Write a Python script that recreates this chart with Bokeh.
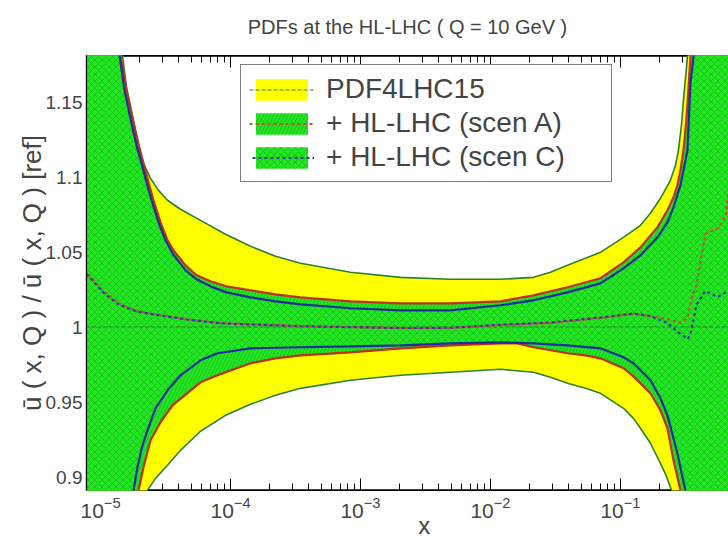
from bokeh.plotting import figure
from bokeh.models import (LogAxis, LogTicker, FixedTicker, Legend, LegendItem,
                          CustomJSTickFormatter)
from bokeh.embed import file_html
from bokeh.resources import INLINE

# ---------------- data ----------------
# PDF4LHC15 band (yellow): upper / lower edge
yel_hi_x = [5e-6, 1.4e-5, 1.476e-5, 1.585e-5, 1.794e-5, 1.96e-5, 2.141e-5, 2.424e-5, 2.794e-5,
            3.276e-5, 4.125e-5, 5.878e-5, 9.151e-5, 1.425e-4, 2.219e-4, 3.455e-4, 8.377e-4,
            2.031e-3, 4.924e-3, 1.194e-2, 2.141e-2, 2.894e-2, 3.911e-2, 5.38e-2, 7.017e-2,
            0.1055, 0.1425, 0.1701, 0.2031, 0.2424, 0.2649, 0.2794, 0.2945, 0.3052, 0.3162,
            0.3276, 0.3394, 0.8]
yel_hi_v = [1.6, 1.2045, 1.1811, 1.1598, 1.1378, 1.1225, 1.1091, 1.0991, 1.0911,
            1.0845, 1.0785, 1.0711, 1.0618, 1.0538, 1.0471, 1.0425, 1.0365,
            1.0331, 1.0318, 1.0318, 1.0331, 1.0365, 1.0411, 1.0458, 1.0498,
            1.0598, 1.0678, 1.0758, 1.0858, 1.0978, 1.1078, 1.1178, 1.1345, 1.1511, 1.1658,
            1.1798, 1.2045, 1.6]
yel_lo_x = [5e-6, 2.03e-5, 2.298e-5, 2.649e-5, 3.276e-5, 4.125e-5, 5.878e-5, 9.151e-5, 1.425e-4,
            2.219e-4, 3.455e-4, 8.377e-4, 2.031e-3, 4.924e-3, 1.194e-2, 2.141e-2, 2.894e-2,
            3.911e-2, 5.38e-2, 7.017e-2, 0.1055, 0.1259, 0.1425, 0.1701, 0.2031, 0.2258,
            0.2467, 0.2697, 0.8]
yel_lo_v = [0.4, 0.8711, 0.8911, 0.8991, 0.9078, 0.9178, 0.9305, 0.9411, 0.9485,
            0.9545, 0.9591, 0.9645, 0.9678, 0.9698, 0.9718, 0.9698, 0.9665,
            0.9625, 0.9591, 0.9558, 0.9458, 0.9391, 0.9325, 0.9225, 0.9091, 0.9005,
            0.8911, 0.8711, 0.4]

# + HL-LHC (scen A) band: upper / lower edge
a_hi_x = [5e-6, 1.327e-5, 1.425e-5, 1.585e-5, 1.794e-5, 1.96e-5, 2.141e-5, 2.339e-5, 2.557e-5,
          2.894e-5, 3.276e-5, 3.644e-5, 4.506e-5, 5.477e-5, 7.017e-5, 9.316e-5, 1.425e-4,
          2.219e-4, 3.455e-4, 8.377e-4, 2.031e-3, 4.924e-3, 1.194e-2, 2.141e-2, 3.911e-2,
          7.017e-2, 0.1055, 0.1425, 0.1925, 0.2298, 0.2557, 0.2744, 0.2894, 0.3052, 0.3162,
          0.3276, 0.3455, 0.3644, 0.8]
a_hi_v = [1.6, 1.2245, 1.1811, 1.1578, 1.1358, 1.1211, 1.1091, 1.0965, 1.0845,
          1.0698, 1.0578, 1.0511, 1.0411, 1.0345, 1.0305, 1.0271, 1.0245,
          1.0218, 1.0198, 1.0171, 1.0158, 1.0158, 1.0171, 1.0211, 1.0265,
          1.0325, 1.0431, 1.0531, 1.0665, 1.0778, 1.0865, 1.0945, 1.1045, 1.1178, 1.1311,
          1.1478, 1.1798, 1.2045, 1.6]
a_lo_x = [5e-6, 1.826e-5, 1.96e-5, 2.141e-5, 2.424e-5, 2.894e-5, 3.58e-5, 4.35e-5, 5.878e-5,
          7.943e-5, 1.425e-4, 2.219e-4, 3.455e-4, 8.377e-4, 2.031e-3, 4.924e-3, 1.194e-2,
          1.613e-2, 2.141e-2, 2.894e-2, 3.911e-2, 5.38e-2, 7.017e-2, 0.1055, 0.1259, 0.1701,
          0.2031, 0.2298, 0.2557, 0.2744, 0.2894, 0.3106, 0.8]
a_lo_v = [0.4, 0.8711, 0.8911, 0.9065, 0.9245, 0.9365, 0.9478, 0.9538, 0.9631,
          0.9678, 0.9758, 0.9791, 0.9811, 0.9831, 0.9858, 0.9878, 0.9891,
          0.9891, 0.9865, 0.9845, 0.9825, 0.9811, 0.9791, 0.9725, 0.9671, 0.9558,
          0.9445, 0.9325, 0.9111, 0.8998, 0.8911, 0.8711, 0.4]

# + HL-LHC (scen C) band: upper / lower edge
c_hi_x = [5e-6, 1.304e-5, 1.4e-5, 1.53e-5, 1.731e-5, 1.891e-5, 2.066e-5, 2.257e-5, 2.467e-5,
          2.794e-5, 3.162e-5, 3.58e-5, 4.506e-5, 5.477e-5, 7.017e-5, 9.316e-5, 1.425e-4,
          2.219e-4, 3.455e-4, 8.377e-4, 2.031e-3, 4.924e-3, 1.194e-2, 2.141e-2, 3.911e-2,
          7.017e-2, 0.1055, 0.1425, 0.1925, 0.2298, 0.2557, 0.2894, 0.3162, 0.3276, 0.3455,
          0.3644, 0.3842, 0.8]
c_hi_v = [1.6, 1.2045, 1.1811, 1.1578, 1.1358, 1.1211, 1.1091, 1.0965, 1.0845,
          1.0698, 1.0578, 1.0491, 1.0378, 1.0318, 1.0271, 1.0231, 1.0198,
          1.0171, 1.0151, 1.0125, 1.0111, 1.0111, 1.0145, 1.0178, 1.0231,
          1.0291, 1.0391, 1.0478, 1.0598, 1.0698, 1.0798, 1.0945, 1.1111, 1.1178, 1.1625,
          1.1798, 1.2045, 1.6]
c_lo_x = [5e-6, 1.701e-5, 1.794e-5, 1.925e-5, 2.103e-5, 2.298e-5, 2.649e-5, 3.276e-5, 4.125e-5,
          5.878e-5, 7.943e-5, 1.425e-4, 3.455e-4, 8.377e-4, 2.031e-3, 4.924e-3, 1.194e-2,
          2.141e-2, 3.911e-2, 7.017e-2, 0.1055, 0.1259, 0.1701, 0.2031, 0.2298, 0.2557,
          0.2744, 0.2945, 0.3162, 0.3334, 0.8]
c_lo_v = [0.4, 0.8711, 0.8911, 0.9065, 0.9211, 0.9311, 0.9458, 0.9578, 0.9678,
          0.9778, 0.9825, 0.9858, 0.9865, 0.9871, 0.9878, 0.9891, 0.9898,
          0.9891, 0.9878, 0.9858, 0.9798, 0.9758, 0.9645, 0.9525, 0.9411, 0.9258,
          0.9158, 0.9031, 0.8911, 0.8711, 0.4]

# central values
ref_x = [5e-6, 0.8]
ref_v = [1.0, 1.0]
cen_a_x = [7.0e-6, 1.05e-5, 1.4e-5, 1.9e-5, 2.6e-5, 4.6e-5, 8.2e-5, 1.33e-4, 3.45e-4, 2.0e-3,
           4.9e-3, 1.2e-2, 2.9e-2, 7e-2, 0.126, 0.17, 0.23, 0.29, 0.327, 0.36, 0.385, 0.45,
           0.57, 0.65, 0.7]
cen_a_v = [1.041, 1.024, 1.0153, 1.0107, 1.0087, 1.0053, 1.0027, 1.002, 1.0007, 0.9993,
           0.9993, 1.0013, 1.0027, 1.006, 1.0087, 1.0073, 1.0053, 1.0027, 1.006, 1.022, 1.028,
           1.062, 1.066, 1.075, 1.1]
cen_c_x = [7.0e-6, 1.05e-5, 1.4e-5, 1.9e-5, 2.6e-5, 4.6e-5, 8.2e-5, 1.33e-4, 3.45e-4, 2.0e-3,
           4.9e-3, 1.2e-2, 2.9e-2, 7e-2, 0.126, 0.17, 0.23, 0.254, 0.29, 0.33, 0.345, 0.385,
           0.45, 0.56, 0.7]
cen_c_v = [1.04, 1.023, 1.0147, 1.0103, 1.0083, 1.005, 1.0025, 1.0018, 1.0005, 0.9993,
           0.9995, 1.0015, 1.003, 1.0063, 1.009, 1.0073, 1.0027, 0.9993, 0.9953, 0.992, 0.995,
           1.015, 1.024, 1.02, 1.025]

labels = ["PDF4LHC15", "+ HL-LHC (scen A)", "+ HL-LHC (scen C)"]
title_text = "PDFs at the HL-LHC ( Q = 10 GeV )"
x_label = "x"
y_label = "\u016b ( x, Q ) / \u016b ( x, Q ) [ref]"
y_tick_values = [0.9, 0.95, 1.0, 1.05, 1.1, 1.15]
y_tick_labels = ["0.9", "0.95", "1", "1.05", "1.1", "1.15"]

# ---------------- figure ----------------
FONT = "Liberation Sans"
p = figure(width=728, height=543, x_axis_type="log", x_axis_location=None,
           title_location=None,
           x_range=(7.8e-6, 0.678), y_range=(0.891, 1.181),
           output_backend="svg", toolbar_location=None,
           min_border_left=86, min_border_right=0, min_border_top=55, min_border_bottom=53)
p.outline_line_color = "black"
p.outline_line_width = 1.2
p.xgrid.visible = False
p.ygrid.visible = False

def band(xh, vh, xl, vl):
    return list(xh) + list(xl)[::-1], list(vh) + list(vl)[::-1]

GREEN_FILL = "#22e622"
HATCH = "#0a7a0a"
EDGE_GREEN = "#2f7f2f"
RED = "#c0301c"
BLUE = "#1c2e9e"

yx, yv = band(yel_hi_x, yel_hi_v, yel_lo_x, yel_lo_v)
r_yel = p.patch(yx, yv, fill_color="#ffff00", line_color=None)
p.line(yel_hi_x, yel_hi_v, line_color=EDGE_GREEN, line_width=1.6)
p.line(yel_lo_x, yel_lo_v, line_color=EDGE_GREEN, line_width=1.6)

ax, av = band(a_hi_x, a_hi_v, a_lo_x, a_lo_v)
r_a = p.patch(ax, av, fill_color=GREEN_FILL, line_color=None,
              hatch_pattern="/", hatch_color=HATCH, hatch_scale=7, hatch_weight=0.6, hatch_alpha=0.55)
cx, cv = band(c_hi_x, c_hi_v, c_lo_x, c_lo_v)
r_c = p.patch(cx, cv, fill_color=GREEN_FILL, line_color=None,
              hatch_pattern="x", hatch_color=HATCH, hatch_scale=7, hatch_weight=0.6, hatch_alpha=0.55)

p.line(a_hi_x, a_hi_v, line_color=RED, line_width=2.2)
p.line(a_lo_x, a_lo_v, line_color=RED, line_width=2.2)
p.line(c_hi_x, c_hi_v, line_color=BLUE, line_width=2.2)
p.line(c_lo_x, c_lo_v, line_color=BLUE, line_width=2.2)

r_ref = p.line(ref_x, ref_v, line_color=EDGE_GREEN, line_width=1.2, line_dash="4 2")
r_cena = p.line(cen_a_x, cen_a_v, line_color="#c8502a", line_width=2.2, line_dash="3 3")
r_cenc = p.line(cen_c_x, cen_c_v, line_color="#20409e", line_width=2.2, line_dash="3 3",
                line_dash_offset=3)

# ---------------- axes ----------------
def tick_axis():
    # inward ticks only, drawn beneath the bands
    return LogAxis(ticker=LogTicker(num_minor_ticks=10),
                   formatter=CustomJSTickFormatter(code="return ''"),
                   major_label_text_font_size="2px", major_label_text_color=None,
                   major_label_standoff=0, major_tick_in=12, major_tick_out=0,
                   minor_tick_in=7, minor_tick_out=0, axis_line_width=2.5,
                   level="underlay")

p.add_layout(tick_axis(), "below")
p.add_layout(LogAxis(ticker=LogTicker(num_minor_ticks=10), axis_line_color=None,
                     major_tick_in=0, major_tick_out=0, minor_tick_in=0, minor_tick_out=0,
                     major_label_text_font=FONT, major_label_text_font_size="21px",
                     major_label_standoff=6,
                     axis_label="\u00a0" * 5 + x_label, axis_label_text_font=FONT,
                     axis_label_text_font_size="24px", axis_label_text_font_style="normal",
                     axis_label_standoff=-9), "below")

# top: tick axes on both sides of the title axis, so one of them sits on the frame
p.add_layout(tick_axis(), "above")
p.add_layout(LogAxis(ticker=LogTicker(num_minor_ticks=10),
                     formatter=CustomJSTickFormatter(code="return ''"),
                     major_label_text_font_size="2px", major_label_text_color=None,
                     major_label_standoff=0, major_tick_in=0, major_tick_out=0,
                     minor_tick_in=0, minor_tick_out=0, axis_line_color=None,
                     axis_label=title_text, axis_label_text_font=FONT,
                     axis_label_text_font_size="20px", axis_label_text_font_style="normal",
                     axis_label_standoff=18), "above")
p.add_layout(tick_axis(), "above")

p.yaxis.ticker = FixedTicker(ticks=y_tick_values, minor_ticks=[])
p.yaxis.major_label_overrides = dict(zip(y_tick_values, y_tick_labels))
p.yaxis.major_label_text_font = FONT
p.yaxis.major_label_text_font_size = "19px"
p.yaxis.major_label_standoff = 4
p.yaxis.major_tick_in = 0
p.yaxis.major_tick_out = 0
p.yaxis.axis_line_width = 1.2
p.yaxis.axis_label = y_label
p.yaxis.axis_label_text_font = FONT
p.yaxis.axis_label_text_font_size = "26px"
p.yaxis.axis_label_text_font_style = "normal"
p.yaxis.axis_label_standoff = -4

# ---------------- legend ----------------
legend = Legend(items=[LegendItem(label=labels[0], renderers=[r_yel, r_ref]),
                       LegendItem(label=labels[1], renderers=[r_a, r_cena]),
                       LegendItem(label=labels[2], renderers=[r_c, r_cenc])],
                location=(154, 308))
legend.label_text_font = FONT
legend.label_text_font_size = "28px"
legend.glyph_width = 65
legend.glyph_height = 27
legend.label_height = 27
legend.label_width = 277
legend.spacing = 2
legend.padding = 8
legend.margin = 0
legend.label_standoff = 12
legend.border_line_color = "black"
legend.border_line_width = 1.5
legend.background_fill_alpha = 1.0
p.add_layout(legend)

open("out.html", "w").write(file_html(p, INLINE))
